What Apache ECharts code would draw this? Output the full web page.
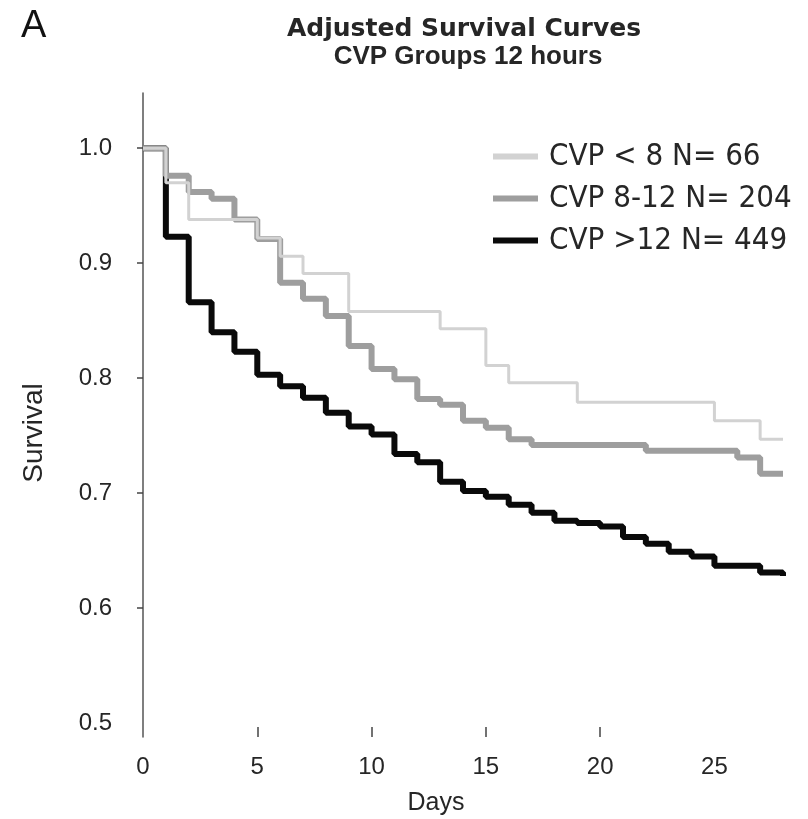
<!DOCTYPE html>
<html>
<head>
<meta charset="utf-8">
<script src="https://cdn.jsdelivr.net/npm/echarts@6/dist/echarts.min.js"></script>
<style>
  html, body { margin: 0; padding: 0; background: #fff; }
  #chart { width: 808px; height: 819px; }
</style>
</head>
<body>
<div id="chart"></div>
<script>
// Adjusted Kaplan-Meier style survival estimates by CVP group (12 hours)
const seriesNames = ['CVP < 8 N= 66', 'CVP 8-12 N= 204', 'CVP >12 N= 449'];

// CVP < 8: day at which each step begins, and survival from that day on
const lowDays = [0, 1, 2, 5, 6, 7, 9, 13, 15, 16, 19, 25, 27, 28];
const lowSurv = [1.0, 0.970, 0.938, 0.922, 0.906, 0.891, 0.858, 0.843, 0.811, 0.796, 0.779, 0.763, 0.747, 0.747];

// CVP 8-12
const midDays = [0, 1, 2, 3, 4, 5, 6, 7, 8, 9, 10, 11, 12, 13, 14, 15, 16, 17, 22, 26, 27, 28];
const midSurv = [1.0, 0.976, 0.962, 0.956, 0.938, 0.921, 0.883, 0.869, 0.854, 0.828, 0.808, 0.799, 0.782, 0.777, 0.763, 0.757, 0.747, 0.742, 0.737, 0.731, 0.717, 0.717];

// CVP > 12
const highDays = [0, 1, 2, 3, 4, 5, 6, 7, 8, 9, 10, 11, 12, 13, 14, 15, 16, 17, 18, 19, 20, 21, 22, 23, 24, 25, 27, 28];
const highSurv = [1.0, 0.923, 0.866, 0.840, 0.823, 0.803, 0.793, 0.783, 0.770, 0.758, 0.751, 0.734, 0.727, 0.710, 0.702, 0.697, 0.690, 0.683, 0.676, 0.674, 0.671, 0.662, 0.656, 0.649, 0.645, 0.637, 0.631, 0.628];

const xTickLabels = [0, 5, 10, 15, 20, 25];
const xTickMarks = [5, 10, 15, 20];
const yTickLabels = [0.5, 0.6, 0.7, 0.8, 0.9, 1.0];
const yTickMarks = [0.6, 0.7, 0.8, 0.9, 1.0];

const pairs = (xs, ys) => xs.map((x, i) => [x, ys[i]]);

const textColor = '#262626';
const axisColor = '#555';
const narrow = "'DejaVu Sans Condensed', 'Liberation Sans Narrow', sans-serif";

const chart = echarts.init(document.getElementById('chart'), null, { renderer: 'canvas' });

chart.setOption({
  backgroundColor: '#ffffff',
  animation: false,
  title: [{
    text: 'Adjusted Survival Curves',
    left: 459,
    top: 12,
    textAlign: 'center',
    textStyle: { fontFamily: 'DejaVu Sans', fontWeight: 'bold', fontSize: 25, color: textColor }
  }, {
    text: 'CVP Groups 12 hours',
    left: 463,
    top: 39,
    textAlign: 'center',
    textStyle: { fontFamily: 'Liberation Sans', fontWeight: 'bold', fontSize: 26, color: textColor }
  }],
  graphic: [
    { type: 'text', left: 21, top: 8, style: { text: 'A', font: '38px "Liberation Sans", Arial, sans-serif', fill: '#111' } },
    { type: 'text', x: 34, y: 433, rotation: Math.PI / 2,
      style: { text: 'Survival', font: '28px "Liberation Sans", Arial, sans-serif', fill: textColor, align: 'center', verticalAlign: 'middle' } },
    { type: 'text', x: 436, y: 803,
      style: { text: 'Days', font: '25px "Liberation Sans", Arial, sans-serif', fill: textColor, align: 'center', verticalAlign: 'middle' } }
  ],
  legend: {
    orient: 'vertical',
    left: 488,
    top: 136,
    icon: 'rect',
    itemWidth: 45,
    itemHeight: 6,
    itemGap: 11,
    data: seriesNames,
    textStyle: { fontFamily: narrow, fontSize: 31, color: textColor, padding: [0, 0, 0, 6] }
  },
  grid: { left: 143, right: 25, top: 93, bottom: 82, containLabel: false },
  xAxis: {
    type: 'value',
    min: 0,
    max: 28,
    axisLine: { show: false },
    splitLine: { show: false },
    axisTick: { show: true, inside: true, length: 10, customValues: xTickMarks, lineStyle: { color: '#444', width: 1.5 } },
    axisLabel: { customValues: xTickLabels, margin: 18, fontFamily: 'Liberation Sans', fontSize: 24, color: textColor }
  },
  yAxis: {
    type: 'value',
    min: 0.488,
    max: 1.048,
    axisLine: { show: true, lineStyle: { color: axisColor, width: 1.5 } },
    splitLine: { show: false },
    axisTick: { show: true, length: 6, customValues: yTickMarks, lineStyle: { color: '#444', width: 1.5 } },
    axisLabel: {
      customValues: yTickLabels,
      margin: 31,
      fontFamily: 'Liberation Sans',
      fontSize: 24,
      color: textColor,
      formatter: v => Number(v).toFixed(1)
    }
  },
  series: [{
    name: seriesNames[2],
    type: 'line',
    step: 'end',
    symbol: 'none',
    z: 2,
    data: pairs(highDays, highSurv),
    lineStyle: { color: '#0a0a0a', width: 6 },
    itemStyle: { color: '#0a0a0a' }
  }, {
    name: seriesNames[1],
    type: 'line',
    step: 'end',
    symbol: 'none',
    z: 3,
    data: pairs(midDays, midSurv),
    lineStyle: { color: '#9e9e9e', width: 6 },
    itemStyle: { color: '#9e9e9e' }
  }, {
    name: seriesNames[0],
    type: 'line',
    step: 'end',
    symbol: 'none',
    z: 4,
    data: pairs(lowDays, lowSurv),
    lineStyle: { color: '#d2d2d2', width: 3 },
    itemStyle: { color: '#d2d2d2' }
  }]
});
</script>
</body>
</html>
